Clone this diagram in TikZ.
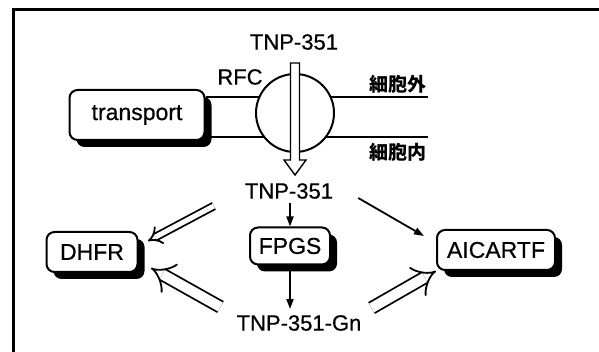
\documentclass[tikz,border=0pt]{standalone}
\usepackage{fontspec}
\setmainfont{Liberation Sans}[FakeBold=0.6]
\newfontfamily\cjk{Noto Sans CJK JP}
\usetikzlibrary{arrows.meta,shadows,calc}

\begin{document}
\begin{tikzpicture}[x=1pt,y=-1pt,
  box/.style={draw,line width=2pt,rounded corners=8pt,fill=white,inner sep=0pt,
              font=\fontsize{23}{26}\selectfont,
              drop shadow={shadow xshift=7pt,shadow yshift=-7pt,fill=black,opacity=1}},
  lbl/.style={inner sep=0pt,font=\fontsize{22}{24}\selectfont},
  jp/.style={inner sep=0pt,font=\cjk\bfseries\fontsize{19}{21}\selectfont},
  mem/.style={line width=2pt},
  hollow/.style={draw,fill=white,line width=1.4pt,line join=miter},
  e/.style={-{Triangle[length=10pt,width=7pt]},line width=1.8pt},
  dbl/.style={double,double distance=#1,line width=1.8pt,-{Implies}}]

\useasboundingbox (0,0) rectangle (599,352);

% ---- frame ----
\draw[line width=3pt] (13,352) -- (13,10) -- (599,10);

% ---- membrane and carrier ----
\node[box,minimum width=135pt,minimum height=50pt] (transport) at (137,115) {transport};
\coordinate (outend) at (428,97);
\coordinate (inend) at (428,137);
\draw[mem] (transport.east |- outend) -- (outend);
\draw[mem] (transport.east |- inend) -- (inend);
\node[draw,circle,line width=2pt,fill=white,minimum size=78pt,inner sep=0pt] (rfcc) at (295,113) {};
\node[lbl] (rfc) at (240,77) {RFC};
\node[jp] (outside) at (398,84) {細胞外};
\node[jp] (inside) at (398,152) {細胞内};

% ---- drug labels ----
\node[lbl] (tnptop) at (294,42) {TNP-351};
\node[lbl] (tnpmid) at (289,191) {TNP-351};
\node[lbl] (tnpgn) at (299,323) {TNP-351-Gn};

% ---- hollow uptake arrow ----
\coordinate (intop) at (295,63);
\coordinate (intip) at (295,175);
\draw[hollow] ($(intop)+(-4.5,0)$) -- ($(intip)+(-4.5,-15)$) -- ($(intip)+(-11,-15)$)
  -- (intip) -- ($(intip)+(11,-15)$) -- ($(intip)+(4.5,-15)$) -- ($(intop)+(4.5,0)$) -- cycle;

% ---- enzymes ----
\node[box,minimum width=91pt,minimum height=40pt] (dhfr) at (92,252) {DHFR};
\node[box,minimum width=80pt,minimum height=37pt] (fpgs) at (290,246) {FPGS};
\node[box,minimum width=118pt,minimum height=40pt] (aicartf) at (496,250) {AICARTF};

\draw[e] (fpgs.north |- tnpmid.south) ++(0,4) -- (fpgs.north);
\draw[e] (fpgs.south) -- ($(fpgs.south |- tnpgn.north)+(0,-6)$);
\draw[e] ($(tnpmid.east)+(25,7)$) -- ($(aicartf.north west)+(-12,7)$);
\draw[dbl=5pt] ($(tnpmid.west)+(-31,15)$) -- ($(dhfr.north east)+(9.5,10)$);
\draw[dbl=10pt] ($(tnpgn.west)+(-16,-16)$) -- ($(dhfr.east)+(12.5,16)$);
\draw[dbl=10pt] ($(tnpgn.east)+(10,-15)$) -- (aicartf.south west);
\end{tikzpicture}
\end{document}
